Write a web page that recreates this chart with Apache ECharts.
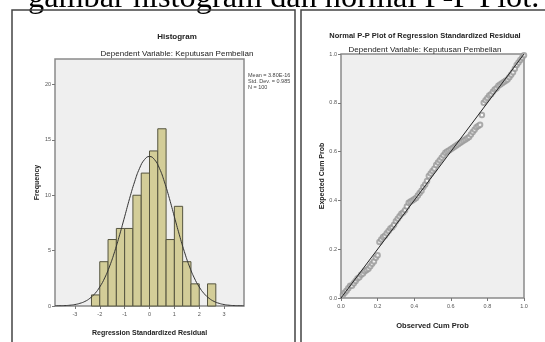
<!DOCTYPE html>
<html><head><meta charset="utf-8">
<script src="https://cdn.jsdelivr.net/npm/echarts@6/dist/echarts.min.js"></script>
<style>html,body{margin:0;padding:0;background:#fff}#c{width:545px;height:342px}</style>
</head><body><div id="c"></div>
<script>
// Histogram data
const binLow = [-2.333,-2,-1.667,-1.333,-1,-0.667,-0.333,0,0.333,0.667,1,1.333,1.667,2,2.333];
const binHigh = [-2,-1.667,-1.333,-1,-0.667,-0.333,0,0.333,0.667,1,1.333,1.667,2,2.333,2.667];
const counts = [1,4,6,7,7,10,12,14,16,6,9,4,2,0,2];
const histXTicks = [-3,-2,-1,0,1,2,3];
const histYTicks = [0,5,10,15,20];
// Normal curve
const curveX = [-3.8,-3.6,-3.4,-3.2,-3,-2.8,-2.6,-2.4,-2.2,-2,-1.8,-1.6,-1.4,-1.2,-1,-0.8,-0.6,-0.4,-0.2,0,0.2,0.4,0.6,0.8,1,1.2,1.4,1.6,1.8,2,2.2,2.4,2.6,2.8,3,3.2,3.4,3.6,3.8];
const curveY = [0.01,0.02,0.035,0.07,0.13,0.24,0.41,0.69,1.11,1.72,2.54,3.61,4.92,6.43,8.06,9.71,11.21,12.43,13.22,13.5,13.22,12.43,11.21,9.71,8.06,6.43,4.92,3.61,2.54,1.72,1.11,0.69,0.41,0.24,0.13,0.07,0.035,0.02,0.01];
const statLines = ['Mean = 3.80E-16','Std. Dev. = 0.985','N = 100'];
// P-P plot data
const observed = [0.01,0.02,0.03,0.04,0.05,0.06,0.07,0.08,0.09,0.10,0.11,0.12,0.13,0.14,0.15,0.16,0.17,0.18,0.19,0.20,0.21,0.22,0.23,0.24,0.25,0.26,0.27,0.28,0.29,0.30,0.31,0.32,0.33,0.34,0.35,0.36,0.37,0.38,0.39,0.40,0.41,0.42,0.43,0.44,0.45,0.46,0.47,0.48,0.49,0.50,0.51,0.52,0.53,0.54,0.55,0.56,0.57,0.58,0.59,0.60,0.61,0.62,0.63,0.64,0.65,0.66,0.67,0.68,0.69,0.70,0.71,0.72,0.73,0.74,0.75,0.76,0.77,0.78,0.79,0.80,0.81,0.82,0.83,0.84,0.85,0.86,0.87,0.88,0.89,0.90,0.91,0.92,0.93,0.94,0.95,0.96,0.97,0.98,0.99,1.00];
const expected = [0.012,0.022,0.03,0.04,0.05,0.05,0.06,0.07,0.08,0.085,0.095,0.10,0.11,0.115,0.12,0.13,0.14,0.15,0.165,0.175,0.23,0.24,0.25,0.255,0.265,0.275,0.285,0.29,0.30,0.315,0.325,0.335,0.345,0.35,0.36,0.375,0.39,0.395,0.40,0.405,0.41,0.42,0.43,0.44,0.455,0.465,0.48,0.50,0.51,0.52,0.53,0.545,0.555,0.565,0.575,0.585,0.595,0.60,0.605,0.61,0.615,0.62,0.625,0.63,0.635,0.64,0.645,0.65,0.655,0.66,0.67,0.68,0.69,0.70,0.705,0.71,0.75,0.80,0.81,0.82,0.83,0.835,0.845,0.855,0.86,0.87,0.875,0.88,0.885,0.89,0.895,0.905,0.915,0.925,0.94,0.955,0.965,0.975,0.985,0.995];

const FONT = "'Liberation Sans Narrow','Liberation Sans',Arial,sans-serif";
const chart = echarts.init(document.getElementById('c'), null, {renderer:'canvas'});
const small = {fontSize:5.5, color:'#555', fontFamily:FONT};
const axTitle = {fontSize:7, fontWeight:'bold', color:'#222', fontFamily:FONT};

chart.setOption({
  animation:false,
  backgroundColor:'#fff',
  title:[
    {text:'Histogram', left:172, top:28, textAlign:'center', textStyle:{fontSize:8,color:'#222',fontWeight:'bold',fontFamily:FONT}},
    {text:'Dependent Variable: Keputusan Pembelian', left:172, top:45, textAlign:'center', textStyle:{fontSize:8,color:'#222',fontWeight:'normal',fontFamily:FONT}},
    {text:'Normal P-P Plot of Regression Standardized Residual', left:420, top:27, textAlign:'center', textStyle:{fontSize:7.5,color:'#222',fontWeight:'bold',fontFamily:FONT}},
    {text:'Dependent Variable: Keputusan Pembelian', left:420, top:41, textAlign:'center', textStyle:{fontSize:8,color:'#222',fontWeight:'normal',fontFamily:FONT}}
  ],
  grid:[
    {left:55, top:59, width:189, height:251, show:true, backgroundColor:'#efefef', borderColor:'#8a8a8a', borderWidth:1.5},
    {left:341, top:54, width:183, height:244, show:true, backgroundColor:'#efefef', borderColor:'#8a8a8a', borderWidth:1.5}
  ],
  xAxis:[
    {gridIndex:0, type:'value', min:-3.8, max:3.8, splitLine:{show:false},
     axisLine:{show:false, onZero:false}, axisTick:{show:true, length:3, lineStyle:{color:'#777'}, customValues:histXTicks},
     axisLabel:Object.assign({margin:5, customValues:histXTicks}, small),
     name:'Regression Standardized Residual', nameLocation:'middle', nameGap:24, nameTextStyle:axTitle},
    {gridIndex:1, type:'value', min:0, max:1, interval:0.2, splitLine:{show:false},
     axisLine:{show:false, onZero:false}, axisTick:{show:true, length:3, lineStyle:{color:'#777'}},
     axisLabel:Object.assign({margin:5, formatter:v=>v.toFixed(1)}, small),
     name:'Observed Cum Prob', nameLocation:'middle', nameGap:24, nameTextStyle:Object.assign({}, axTitle, {fontSize:7.5})}
  ],
  yAxis:[
    {gridIndex:0, type:'value', min:0, max:22.3, splitLine:{show:false},
     axisLine:{show:false, onZero:false}, axisTick:{show:true, length:3, lineStyle:{color:'#777'}, customValues:histYTicks},
     axisLabel:Object.assign({margin:4, customValues:histYTicks}, small),
     name:'Frequency', nameLocation:'middle', nameGap:8, nameTextStyle:axTitle},
    {gridIndex:1, type:'value', min:0, max:1, interval:0.2, splitLine:{show:false},
     axisLine:{show:false, onZero:false}, axisTick:{show:true, length:3, lineStyle:{color:'#777'}},
     axisLabel:Object.assign({margin:4, formatter:v=>v.toFixed(1)}, small),
     name:'Expected Cum Prob', nameLocation:'middle', nameGap:14, nameTextStyle:axTitle}
  ],
  series:[
    {type:'custom', xAxisIndex:0, yAxisIndex:0,
     data: counts.map((c,i)=>[binLow[i], binHigh[i], c]),
     renderItem:(params, api)=>{
       const p0 = api.coord([api.value(0), 0]);
       const p1 = api.coord([api.value(1), api.value(2)]);
       if (api.value(2) === 0) return null;
       return {type:'rect', shape:{x:p0[0], y:p1[1], width:p1[0]-p0[0], height:p0[1]-p1[1]},
         style:{fill:'#d3cd98', stroke:'#55543f', lineWidth:1}};
     }},
    {type:'line', xAxisIndex:0, yAxisIndex:0, data:curveX.map((x,i)=>[x,curveY[i]]), smooth:true, symbol:'none',
     lineStyle:{color:'#333', width:1}},
    {type:'line', xAxisIndex:1, yAxisIndex:1, data:[[0,0],[1,1]], symbol:'none', lineStyle:{color:'#222', width:1}},
    {type:'scatter', xAxisIndex:1, yAxisIndex:1, data:observed.map((x,i)=>[x,expected[i]]), symbol:'emptyCircle', symbolSize:4.5,
     itemStyle:{color:'#999', borderColor:'#8a8a8a', borderWidth:0.7}}
  ],
  graphic:[
    {type:'text', style:{text:'gambar histogram dan normal P-P Plot.', x:28, y:15, textVerticalAlign:'bottom', font:"32.3px 'Liberation Serif', 'Times New Roman', serif", fill:'#000'}},
    {type:'rect', shape:{x:12, y:10, width:283, height:345}, style:{fill:'none', stroke:'#444', lineWidth:1.5}},
    {type:'rect', shape:{x:301, y:10, width:260, height:345}, style:{fill:'none', stroke:'#444', lineWidth:1.5}},
    {type:'text', style:{text:statLines.join('\n'), x:248, y:72, font:"5.5px "+FONT, fill:'#444', lineHeight:6}}
  ]
});
</script></body></html>
